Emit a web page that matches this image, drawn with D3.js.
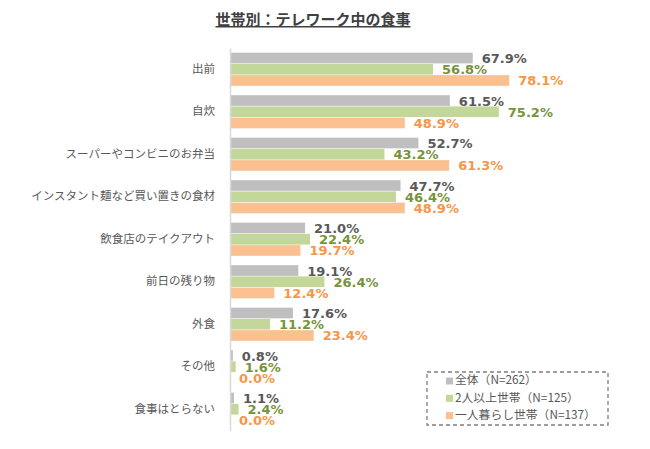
<!DOCTYPE html>
<html><head><meta charset="utf-8">
<script src="https://cdn.jsdelivr.net/npm/d3@7"></script>
<style>body{margin:0;background:#fff}svg{display:block}</style>
</head><body>
<svg id="c" width="650" height="449"></svg>
<script>
const title = "世帯別：テレワーク中の食事";
const categories = ["出前","自炊","スーパーやコンビニのお弁当","インスタント麺など買い置きの食材","飲食店のテイクアウト","前日の残り物","外食","その他","食事はとらない"];
const seriesNames = ["全体（N=262）","2人以上世帯（N=125）","一人暮らし世帯（N=137）"];
const allValues = [67.9,61.5,52.7,47.7,21.0,19.1,17.6,0.8,1.1];
const multiValues = [56.8,75.2,43.2,46.4,22.4,26.4,11.2,1.6,2.4];
const singleValues = [78.1,48.9,61.3,48.9,19.7,12.4,23.4,0.0,0.0];
const seriesValues = [allValues, multiValues, singleValues];
const barColors = ["#bfbfbf","#c4d79b","#fac090"];
const labelColors = ["#595959","#77933c","#f79646"];

const svg = d3.select("#c");
const x = d3.scaleLinear().domain([0,100]).range([230, 230+357.5]);
const y = d3.scaleBand().domain(categories).range([48, 48+9*42.5]).paddingInner(0.22).paddingOuter(0.11);
const ys = d3.scaleBand().domain(d3.range(3)).range([0, y.bandwidth()]).paddingInner(0.05);

// title
svg.append("text").attr("x",313).attr("y",25).attr("text-anchor","middle")
  .attr("font-family","'Noto Sans CJK JP'").attr("font-weight","bold").attr("font-size",15)
  .attr("fill","#404040").attr("text-decoration","underline").text(title);

const g = svg.append("g");
categories.forEach((c,i)=>{
  const grp = g.append("g").attr("transform",`translate(0,${y(c)})`);
  seriesValues.forEach((vals,s)=>{
    grp.append("rect").attr("x",x(0)).attr("y",ys(s)).attr("width",x(vals[i])-x(0)).attr("height",ys.bandwidth()).attr("fill",barColors[s]);
  });
  seriesValues.forEach((vals,s)=>{
    grp.append("text").attr("x",x(vals[i])+9).attr("y",ys(s)+ys.bandwidth()/2+1.5)
      .attr("dominant-baseline","middle").attr("font-family","'DejaVu Sans'").attr("font-weight","bold")
      .attr("font-size",13).attr("fill",labelColors[s]).text(vals[i].toFixed(1)+"%");
  });
});

// category axis
const yAxis = d3.axisLeft(y).tickSize(0).tickPadding(15);
const ax = svg.append("g").attr("transform",`translate(${x(0)},0)`).call(yAxis);
ax.select(".domain").attr("stroke","#d9d9d9").attr("stroke-width",1.5);
ax.selectAll("text").attr("font-family","'Noto Sans CJK JP'").attr("font-size",11.5).attr("fill","#595959");

// legend
const lg = svg.append("g");
lg.append("rect").attr("x",427).attr("y",372).attr("width",181).attr("height",53)
  .attr("fill","#fff").attr("stroke","#7f7f7f").attr("stroke-width",1.3).attr("stroke-dasharray","4,3");
seriesNames.forEach((n,i)=>{
  const yy = 381 + i*17.3;
  lg.append("rect").attr("x",446).attr("y",yy-3.5).attr("width",7).attr("height",7).attr("fill",barColors[i]);
  lg.append("text").attr("x",455).attr("y",yy).attr("dominant-baseline","middle")
    .attr("font-family","'Noto Sans CJK JP'").attr("font-size",11.8).attr("fill","#595959").text(n);
});
</script>
</body></html>
